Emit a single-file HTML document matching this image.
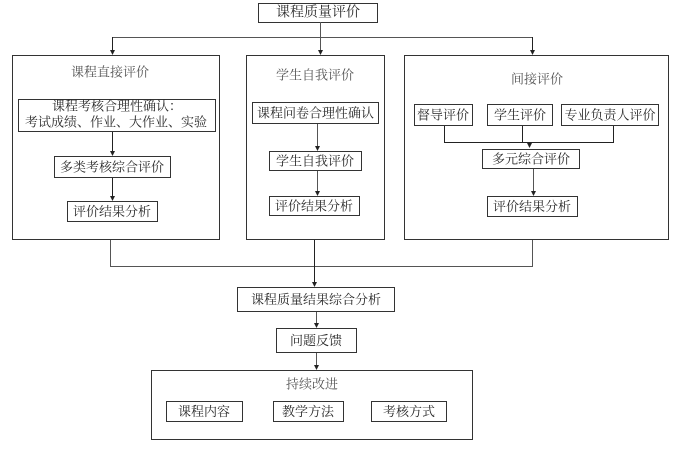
<!DOCTYPE html>
<html><head><meta charset="utf-8">
<style>
html,body{margin:0;padding:0;background:#fff;}
svg{display:block;}
text{font-family:"Liberation Serif","Noto Serif CJK SC","Noto Sans CJK SC",serif;font-size:13px;fill:#2a2a2a;text-anchor:middle;dominant-baseline:central;}
.t{fill:#555;}
rect{fill:#fff;stroke:#333;stroke-width:1;}
.l{stroke:#555;stroke-width:1;fill:none;}
.d{stroke:#222;stroke-width:1;fill:none;}
.a{fill:#222;stroke:none;}
</style></head>
<body>
<svg width="691" height="452" viewBox="0 0 691 452" xmlns="http://www.w3.org/2000/svg">
<!-- top -->
<rect x="258.5" y="3.5" width="119" height="19"/>
<text x="318" y="13" style="font-size:14px">课程质量评价</text>
<line class="l" x1="320.5" y1="22" x2="320.5" y2="50"/>
<polygon class="a" points="318,50 323,50 320.5,55"/>
<line class="l" x1="112" y1="37.5" x2="533" y2="37.5"/>
<line class="d" x1="112.5" y1="37" x2="112.5" y2="50"/>
<polygon class="a" points="110,50 115,50 112.5,55"/>
<line class="d" x1="532.5" y1="37" x2="532.5" y2="50"/>
<polygon class="a" points="530,50 535,50 532.5,55"/>

<!-- big boxes -->
<rect x="12.5" y="55.5" width="207" height="184"/>
<rect x="246.5" y="55.5" width="138" height="184"/>
<rect x="404.5" y="55.5" width="264" height="184"/>
<text class="t" x="110" y="72">课程直接评价</text>
<text class="t" x="315" y="75">学生自我评价</text>
<text class="t" x="537" y="79">间接评价</text>

<!-- left column -->
<rect x="18.5" y="99.5" width="197" height="32"/>
<text x="117" y="106">课程考核合理性确认：</text>
<text x="116" y="122">考试成绩、作业、大作业、实验</text>
<line class="d" x1="112.5" y1="132" x2="112.5" y2="151"/>
<polygon class="a" points="110,151 115,151 112.5,156"/>
<rect x="54.5" y="156.5" width="116" height="21"/>
<text x="112" y="167">多类考核综合评价</text>
<line class="d" x1="112.5" y1="178" x2="112.5" y2="196"/>
<polygon class="a" points="110,196 115,196 112.5,201"/>
<rect x="67.5" y="201.5" width="90" height="20"/>
<text x="112" y="211.5">评价结果分析</text>

<!-- middle column -->
<rect x="252.5" y="102.5" width="126" height="21"/>
<text x="315.5" y="113">课程问卷合理性确认</text>
<line class="l" x1="317.5" y1="124" x2="317.5" y2="146"/>
<polygon class="a" points="315,146 320,146 317.5,151"/>
<rect x="269.5" y="151.5" width="92" height="19"/>
<text x="315" y="161">学生自我评价</text>
<line class="l" x1="317.5" y1="171" x2="317.5" y2="191"/>
<polygon class="a" points="315,191 320,191 317.5,196"/>
<rect x="269.5" y="196.5" width="90" height="19"/>
<text x="314" y="206">评价结果分析</text>

<!-- right column -->
<rect x="414.5" y="104.5" width="58" height="21"/>
<text x="443" y="115">督导评价</text>
<rect x="487.5" y="104.5" width="65" height="21"/>
<text x="520" y="115">学生评价</text>
<rect x="561.5" y="104.5" width="97" height="21"/>
<text x="610" y="115">专业负责人评价</text>
<line class="d" x1="444.5" y1="126" x2="444.5" y2="142.5"/>
<line class="d" x1="522.5" y1="126" x2="522.5" y2="142.5"/>
<line class="d" x1="613.5" y1="126" x2="613.5" y2="142.5"/>
<line class="d" x1="444" y1="142.5" x2="614" y2="142.5"/>
<polygon class="a" points="527,143 532,143 529.5,148"/>
<rect x="482.5" y="149.5" width="97" height="19"/>
<text x="531" y="159">多元综合评价</text>
<line class="l" x1="533.5" y1="169" x2="533.5" y2="191"/>
<polygon class="a" points="531,191 536,191 533.5,196"/>
<rect x="487.5" y="196.5" width="90" height="20"/>
<text x="532" y="206.5">评价结果分析</text>

<!-- bottom merge -->
<polyline class="l" points="110.5,240 110.5,266.5 532.5,266.5 532.5,240"/>
<line class="d" x1="314.5" y1="240" x2="314.5" y2="282"/>
<polygon class="a" points="312,282 317,282 314.5,287"/>
<rect x="237.5" y="287.5" width="157" height="24"/>
<text x="316" y="299.5">课程质量结果综合分析</text>
<line class="l" x1="316.5" y1="312" x2="316.5" y2="323"/>
<polygon class="a" points="314,323 319,323 316.5,328"/>
<rect x="276.5" y="328.5" width="80" height="24"/>
<text x="316" y="340.5">问题反馈</text>
<line class="l" x1="316.5" y1="353" x2="316.5" y2="365"/>
<polygon class="a" points="314,365 319,365 316.5,370"/>
<rect x="151.5" y="370.5" width="321" height="69"/>
<text class="t" x="312" y="384">持续改进</text>
<rect x="166.5" y="401.5" width="76" height="20"/>
<text x="204" y="411.5">课程内容</text>
<rect x="273.5" y="401.5" width="70" height="20"/>
<text x="308" y="411.5">教学方法</text>
<rect x="371.5" y="401.5" width="75" height="20"/>
<text x="409" y="411.5">考核方式</text>
</svg>
</body></html>
